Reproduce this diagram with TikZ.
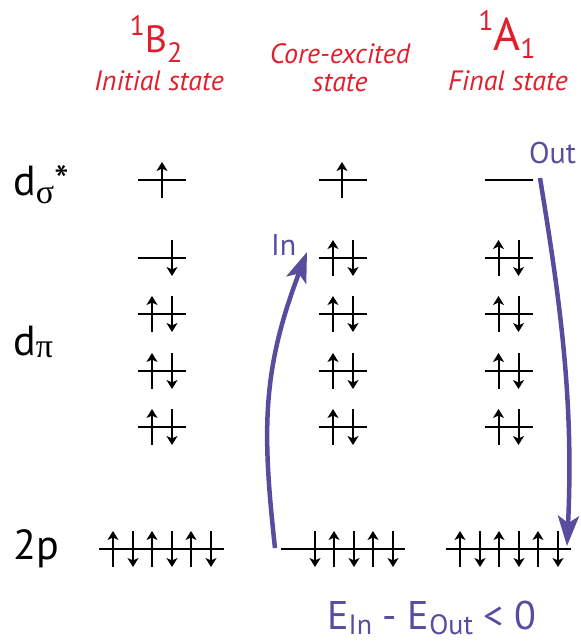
\documentclass[tikz,border=0pt]{standalone}
\usepackage{fontspec}
\setmainfont{PT Sans}
\newfontfamily\grk{Liberation Serif}
\usetikzlibrary{arrows.meta}
\definecolor{hdred}{RGB}{227,30,44}
\definecolor{trpurple}{RGB}{88,76,158}
\tikzset{
  level/.style={line width=1.5pt},
  spin/.style={line width=2pt,-{Stealth[length=9pt,width=11pt,inset=2.5pt]}},
  upspin/.pic={\draw[spin] (0,18) -- (0,-18);},
  dnspin/.pic={\draw[spin] (0,-18) -- (0,18);},
  pairspin/.pic={\draw[spin] (-10,18) -- (-10,-18); \draw[spin] (10,-18) -- (10,18);},
  trans/.style={trpurple,line width=4.5pt,-{Stealth[length=30pt,width=21pt,inset=7pt]}},
  lbl/.style={font=\fontsize{42}{42}\selectfont,anchor=base west,inner sep=0pt},
  head/.style={hdred,font=\fontsize{38}{38}\selectfont,anchor=base,inner sep=0pt},
  sub/.style={hdred,font=\fontsize{28}{28}\selectfont\itshape,anchor=base,inner sep=0pt},
  plbl/.style={trpurple,font=\fontsize{30}{30}\selectfont,anchor=base west,inner sep=0pt},
}
\newcommand\smallnum[2]{\raisebox{#1}{\fontsize{28}{28}\selectfont #2}}
\begin{document}
\begin{tikzpicture}[x=1pt,y=-1pt]
\useasboundingbox (0,0) rectangle (581,643);
% headers
\node[head] (hB) at (156,52) {\smallnum{17pt}{1}B\smallnum{-10pt}{2}};
\node[sub] (hBs) at (159,90) {Initial state};
\node[sub] (hC) at (340,63) {Core-excited};
\node[sub] (hCs) at (340,91) {state};
\node[head,font=\fontsize{46}{46}\selectfont] (hA) at (507,50) {\smallnum{20pt}{1}A\smallnum{-8pt}{1}};
\node[sub] (hAs) at (508,90) {Final state};
% left labels
\node[lbl] (ds) at (13,195) {d\raisebox{-8pt}{\fontsize{34}{34}\selectfont\grk σ}*};
\node[lbl] (dp) at (13,355) {d\raisebox{-2pt}{\fontsize{34}{34}\selectfont\grk π}};
\node[lbl] (tp) at (13,559) {2p};
% d levels
\foreach \c in {162,343,508.5}{
  \foreach \y in {180,258,314,371,427}{
    \draw[level] (\c-24,\y) -- (\c+24,\y);
  }
}
% column 1
\pic at (162,180) {upspin};
\pic at (172,258) {dnspin};
\foreach \y in {314,371,427} \pic at (162,\y) {pairspin};
% column 2
\pic at (342,180) {upspin};
\foreach \y in {258,314,371,427} \pic at (343,\y) {pairspin};
% column 3
\foreach \y in {258,314,371,427} \pic at (508.5,\y) {pairspin};
% 2p levels
\draw[level] (99,549) -- (224,549);
\draw[level] (281,549) -- (405,549);
\draw[level] (446,549) -- (571,549);
\foreach \s in {99,446}{
  \foreach \o in {14,53,92} \pic at (\s+\o,549) {upspin};
  \foreach \o in {34,73,112} \pic at (\s+\o,549) {dnspin};
}
\foreach \o in {53,92} \pic at (281+\o,549) {upspin};
\foreach \o in {34,73,112} \pic at (281+\o,549) {dnspin};
% transitions
\coordinate (inS) at (275,548);
\coordinate (inE) at (307,252);
\coordinate (outS) at (540,178);
\coordinate (outE) at (567,546);
\draw[trans] (inS) .. controls (262,430) and (262,370) .. (inE);
\draw[trans] (outS) .. controls (560,300) and (574,400) .. (outE);
\node[plbl] (lin) at (271,255) {In};
\node[plbl] (lout) at (529,163) {Out};
\node[plbl,font=\fontsize{40}{40}\selectfont] (eq) at (327,629) {E\raisebox{-5pt}{\fontsize{28}{28}\selectfont In} - E\raisebox{-5pt}{\fontsize{28}{28}\selectfont Out} < 0};
\end{tikzpicture}
\end{document}
